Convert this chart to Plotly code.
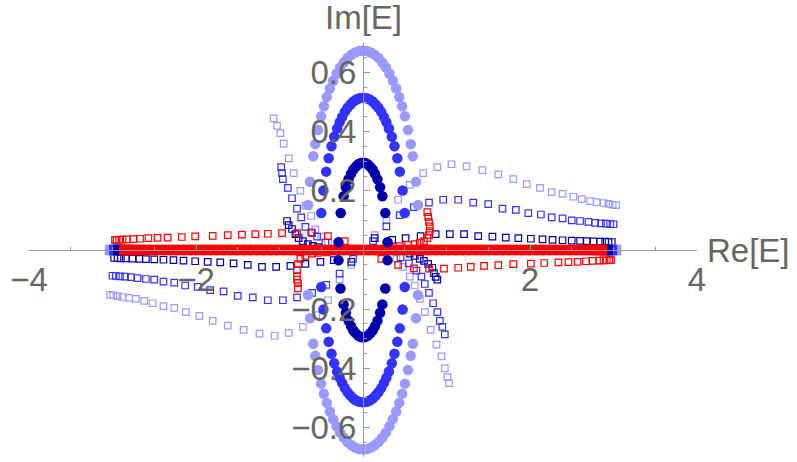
import plotly.graph_objects as go

# ---------------- colours ----------------
LIGHT = "#9999ff"
MEDIUM = "#3333ff"
NAVY = "#0000aa"
RED = "#ff0000"
TEXT = "#666666"
AXIS = "#999999"

# ---------------- filled-circle spectra ----------------
navy_dot_x = [0.294, 0.267, 0.232, 0.205, 0.173, 0.143, 0.115, 0.086, 0.056, 0.026, 0.0,
              -0.026, -0.056, -0.086, -0.115, -0.143, -0.173, -0.205, -0.232, -0.267, -0.294,
              -0.293, -0.270, -0.232, -0.205, -0.173, -0.143, -0.115, -0.086, -0.056, -0.026, 0.0,
              0.026, 0.056, 0.086, 0.115, 0.143, 0.173, 0.205, 0.232, 0.267, 0.293]
navy_dot_y = [0.026, 0.125, 0.182, 0.212, 0.239, 0.258, 0.272, 0.282, 0.290, 0.294, 0.295,
              0.294, 0.290, 0.282, 0.272, 0.258, 0.239, 0.212, 0.182, 0.125, 0.026,
              -0.035, -0.130, -0.184, -0.212, -0.239, -0.258, -0.272, -0.282, -0.290, -0.294, -0.295,
              -0.294, -0.290, -0.282, -0.272, -0.258, -0.239, -0.212, -0.184, -0.130, -0.035]

medium_dot_x = [0.500, 0.474, 0.441, 0.411, 0.377, 0.345, 0.310, 0.280, 0.250, 0.218, 0.185,
                0.151, 0.116, 0.081, 0.045, 0.0, -0.045, -0.081, -0.116, -0.151, -0.185, -0.218,
                -0.250, -0.280, -0.310, -0.345, -0.377, -0.411, -0.441, -0.474, -0.500,
                -0.500, -0.474, -0.441, -0.411, -0.377, -0.345, -0.310, -0.280, -0.250, -0.218,
                -0.185, -0.151, -0.116, -0.081, -0.045, 0.0, 0.045, 0.081, 0.116, 0.151, 0.185,
                0.218, 0.250, 0.280, 0.310, 0.345, 0.377, 0.411, 0.441, 0.474, 0.500]
medium_dot_y = [0.125, 0.201, 0.265, 0.310, 0.351, 0.383, 0.411, 0.432, 0.450, 0.467, 0.481,
                0.492, 0.502, 0.509, 0.513, 0.515, 0.513, 0.509, 0.502, 0.492, 0.481, 0.467,
                0.450, 0.432, 0.411, 0.383, 0.351, 0.310, 0.265, 0.201, 0.125,
                -0.125, -0.201, -0.265, -0.310, -0.351, -0.383, -0.411, -0.432, -0.450, -0.467,
                -0.481, -0.492, -0.502, -0.509, -0.513, -0.515, -0.513, -0.509, -0.502, -0.492, -0.481,
                -0.467, -0.450, -0.432, -0.411, -0.383, -0.351, -0.310, -0.265, -0.201, -0.125]

light_dot_x = [0.658, 0.634, 0.596, 0.572, 0.539, 0.502, 0.469, 0.434, 0.397, 0.358, 0.317,
               0.275, 0.231, 0.186, 0.140, 0.094, 0.047, 0.0, -0.047, -0.094, -0.140, -0.186,
               -0.231, -0.275, -0.317, -0.358, -0.397, -0.434, -0.469, -0.502, -0.539, -0.572,
               -0.596, -0.634, -0.658,
               -0.658, -0.634, -0.596, -0.572, -0.539, -0.502, -0.469, -0.434, -0.397, -0.358,
               -0.317, -0.275, -0.231, -0.186, -0.140, -0.094, -0.047, 0.0, 0.047, 0.094, 0.140,
               0.186, 0.231, 0.275, 0.317, 0.358, 0.397, 0.434, 0.469, 0.502, 0.539, 0.572,
               0.596, 0.634, 0.658]
light_dot_y = [0.152, 0.231, 0.317, 0.358, 0.406, 0.452, 0.486, 0.517, 0.546, 0.572, 0.596,
               0.617, 0.634, 0.649, 0.660, 0.668, 0.673, 0.675, 0.673, 0.668, 0.660, 0.649,
               0.634, 0.617, 0.596, 0.572, 0.546, 0.517, 0.486, 0.452, 0.406, 0.358,
               0.317, 0.231, 0.152,
               -0.152, -0.231, -0.317, -0.358, -0.406, -0.452, -0.486, -0.517, -0.546, -0.572,
               -0.596, -0.617, -0.634, -0.649, -0.660, -0.668, -0.673, -0.675, -0.673, -0.668, -0.660,
               -0.649, -0.634, -0.617, -0.596, -0.572, -0.546, -0.517, -0.486, -0.452, -0.406, -0.358,
               -0.317, -0.231, -0.152]

# ---------------- open-square spectra ----------------
# light blue branches
light_sq_ur_x = [0.14, 0.28, 0.42, 0.56, 0.72, 0.89, 1.06, 1.24, 1.43, 1.62, 1.80, 1.96, 2.12,
                 2.26, 2.39, 2.52, 2.62, 2.72, 2.80, 2.88, 2.94, 2.99, 3.03]
light_sq_ur_y = [0.05, 0.10, 0.17, 0.22, 0.26, 0.28, 0.29, 0.283, 0.27, 0.256, 0.24, 0.223, 0.21,
                 0.196, 0.19, 0.18, 0.172, 0.165, 0.162, 0.159, 0.156, 0.153, 0.152]
light_sq_ll_x = [-0.14, -0.28, -0.42, -0.56, -0.72, -0.89, -1.06, -1.24, -1.43, -1.62, -1.80, -1.96,
                 -2.12, -2.26, -2.39, -2.52, -2.62, -2.72, -2.80, -2.88, -2.94, -2.99, -3.03]
light_sq_ll_y = [-0.05, -0.10, -0.17, -0.22, -0.26, -0.28, -0.29, -0.283, -0.27, -0.256, -0.24,
                 -0.223, -0.21, -0.196, -0.19, -0.18, -0.172, -0.165, -0.162, -0.159, -0.156,
                 -0.153, -0.152]
light_sq_lr_x = [0.40, 0.48, 0.56, 0.62, 0.68, 0.74, 0.81, 0.88, 0.94, 0.98, 1.01, 1.03]
light_sq_lr_y = [-0.03, -0.057, -0.09, -0.12, -0.165, -0.21, -0.27, -0.32, -0.36, -0.40, -0.43, -0.45]
light_sq_ul_x = [-0.42, -0.50, -0.57, -0.62, -0.69, -0.75, -0.83, -0.89, -0.95, -0.99, -1.03, -1.07]
light_sq_ul_y = [0.025, 0.045, 0.07, 0.115, 0.15, 0.20, 0.26, 0.31, 0.36, 0.395, 0.42, 0.445]

# medium blue branches
medium_sq_ur_x = [0.12, 0.28, 0.44, 0.61, 0.79, 0.96, 1.14, 1.32, 1.50, 1.67, 1.83, 1.98, 2.13,
                  2.26, 2.39, 2.50, 2.60, 2.70, 2.78, 2.85, 2.91, 2.96, 3.00]
medium_sq_ur_y = [0.03, 0.08, 0.118, 0.145, 0.16, 0.17, 0.17, 0.16, 0.155, 0.14, 0.136, 0.125,
                  0.12, 0.11, 0.107, 0.10, 0.098, 0.095, 0.092, 0.09, 0.089, 0.088, 0.087]
medium_sq_ll_x = [-0.12, -0.28, -0.44, -0.61, -0.79, -0.96, -1.14, -1.32, -1.50, -1.67, -1.83,
                  -1.98, -2.13, -2.26, -2.39, -2.50, -2.60, -2.70, -2.78, -2.85, -2.91, -2.96, -3.00]
medium_sq_ll_y = [-0.03, -0.08, -0.118, -0.145, -0.16, -0.17, -0.17, -0.16, -0.155, -0.14, -0.136,
                  -0.125, -0.12, -0.11, -0.107, -0.10, -0.098, -0.095, -0.092, -0.09, -0.089,
                  -0.088, -0.087]
medium_sq_lr_x = [0.45, 0.55, 0.64, 0.70, 0.74, 0.79, 0.84, 0.89, 0.92, 0.95, 0.98]
medium_sq_lr_y = [-0.025, -0.045, -0.07, -0.09, -0.115, -0.145, -0.18, -0.21, -0.24, -0.26, -0.285]
medium_sq_ul_x = [-0.45, -0.55, -0.62, -0.69, -0.74, -0.79, -0.85, -0.90, -0.96, -0.97, -0.98]
medium_sq_ul_y = [0.025, 0.045, 0.06, 0.078, 0.11, 0.14, 0.175, 0.21, 0.24, 0.26, 0.28]

# navy branches
navy_sq_ur_x = [0.14, 0.35, 0.51, 0.69, 0.87, 1.04, 1.21, 1.38, 1.55, 1.71, 1.86, 2.01, 2.15,
                2.27, 2.39, 2.50, 2.60, 2.68, 2.76, 2.84, 2.90, 2.94, 2.98]
navy_sq_ur_y = [0.04, 0.034, 0.04, 0.047, 0.054, 0.054, 0.054, 0.047, 0.045, 0.042, 0.04, 0.038,
                0.036, 0.034, 0.033, 0.032, 0.031, 0.030, 0.029, 0.028, 0.028, 0.027, 0.027]
navy_sq_ll_x = [-0.14, -0.35, -0.51, -0.69, -0.87, -1.04, -1.21, -1.38, -1.55, -1.71, -1.86, -2.01,
                -2.15, -2.27, -2.39, -2.50, -2.60, -2.68, -2.76, -2.84, -2.90, -2.94, -2.98]
navy_sq_ll_y = [-0.04, -0.034, -0.04, -0.047, -0.054, -0.057, -0.057, -0.05, -0.045, -0.042, -0.04,
                -0.038, -0.036, -0.034, -0.033, -0.032, -0.031, -0.030, -0.029, -0.028, -0.028,
                -0.027, -0.027]
navy_sq_ul_x = [-0.54, -0.60, -0.66, -0.72, -0.77, -0.81, -0.85, -0.89, -0.91]
navy_sq_ul_y = [0.01, 0.014, 0.02, 0.03, 0.04, 0.054, 0.071, 0.084, 0.098]
navy_sq_lr_x = [0.56, 0.62, 0.68, 0.73, 0.78, 0.83, 0.85, 0.87, 0.89]
navy_sq_lr_y = [-0.012, -0.02, -0.03, -0.037, -0.047, -0.06, -0.078, -0.091, -0.10]

# red branches
red_sq_ul_x = [-2.97, -2.95, -2.92, -2.88, -2.83, -2.75, -2.67, -2.57, -2.46, -2.34, -2.17, -2.01,
               -1.80, -1.62, -1.45, -1.29, -1.14, -0.97, -0.79, -0.61, -0.42, -0.22]
red_sq_ul_y = [0.034, 0.034, 0.035, 0.035, 0.036, 0.037, 0.038, 0.04, 0.041, 0.042, 0.044, 0.046,
               0.048, 0.05, 0.052, 0.054, 0.055, 0.057, 0.057, 0.057, 0.047, 0.03]
red_sq_lr_x = [0.22, 0.42, 0.61, 0.79, 0.97, 1.14, 1.29, 1.45, 1.62, 1.80, 2.01, 2.17, 2.34, 2.46,
               2.57, 2.67, 2.75, 2.83, 2.88, 2.92, 2.95, 2.97]
red_sq_lr_y = [-0.03, -0.05, -0.062, -0.063, -0.063, -0.06, -0.057, -0.054, -0.051, -0.048, -0.046,
               -0.044, -0.042, -0.041, -0.04, -0.038, -0.037, -0.036, -0.035, -0.035, -0.034, -0.034]
red_sq_ur_x = [0.32, 0.44, 0.54, 0.62, 0.68, 0.73, 0.77, 0.79, 0.80, 0.80, 0.79, 0.78, 0.77]
red_sq_ur_y = [0.01, 0.013, 0.017, 0.02, 0.024, 0.03, 0.04, 0.05, 0.064, 0.08, 0.095, 0.112, 0.128]
red_sq_ll_x = [-0.32, -0.44, -0.54, -0.61, -0.69, -0.75, -0.78, -0.79, -0.79, -0.79, -0.78, -0.78]
red_sq_ll_y = [-0.005, -0.008, -0.01, -0.012, -0.02, -0.03, -0.048, -0.068, -0.088, -0.10, -0.112,
               -0.13]

# eigenvalues packed on the real axis
red_axis_x = [-2.86, -2.84, -2.81, -2.77, -2.72, -2.66, -2.59, -2.51, -2.43, -2.35, -2.27, -2.19,
              -2.11, -2.03, -1.95, -1.87, -1.79, -1.71, -1.63, -1.55, -1.47, -1.39, -1.31, -1.23,
              -1.15, -1.07, -0.99, -0.91, -0.83, -0.75, -0.67, -0.59, -0.51, -0.43, -0.35, -0.27,
              -0.19, -0.11, -0.04, 0.04, 0.11, 0.19, 0.27, 0.35, 0.43, 0.51, 0.59, 0.67, 0.75, 0.83,
              0.91, 0.99, 1.07, 1.15, 1.23, 1.31, 1.39, 1.47, 1.55, 1.63, 1.71, 1.79, 1.87, 1.95,
              2.03, 2.11, 2.19, 2.27, 2.35, 2.43, 2.51, 2.59, 2.66, 2.72, 2.77, 2.81, 2.84, 2.86]
navy_axis_x = [-2.93, -2.91, -2.89, 2.89, 2.91, 2.93]
medium_axis_x = [-2.98, -2.96, 2.96, 2.98]
light_axis_x = [-3.03, -3.01, 3.01, 3.03]

# ---------------- axes ----------------
x_range = [-4, 4]
y_range = [-0.7, 0.7]
x_ticks = [-4, -2, 2, 4]
x_labels = ["\u22124", "\u22122", "2", "4"]
y_ticks = [-0.6, -0.4, -0.2, 0.2, 0.4, 0.6]
y_labels = ["\u22120.6", "\u22120.4", "\u22120.2", "0.2", "0.4", "0.6"]

fig = go.Figure()


def squares(x, y, color, size=6.5):
    fig.add_trace(go.Scatter(
        x=x, y=y, mode="markers", hoverinfo="skip",
        marker=dict(symbol="square-open", size=size, color=color,
                    line=dict(width=1.2, color=color)),
    ))


def axis_band(x, color):
    fig.add_trace(go.Scatter(
        x=x, y=[0.0] * len(x), mode="markers", hoverinfo="skip",
        marker=dict(symbol="square", size=10.5, color=color, line=dict(width=0)),
    ))


def dots(x, y, color):
    fig.add_trace(go.Scatter(
        x=x, y=y, mode="markers", hoverinfo="skip",
        marker=dict(symbol="circle", size=10.5, color=color, line=dict(width=0)),
    ))


# light blue squares
squares(light_sq_ur_x, light_sq_ur_y, LIGHT)
squares(light_sq_ll_x, light_sq_ll_y, LIGHT)
squares(light_sq_lr_x, light_sq_lr_y, LIGHT)
squares(light_sq_ul_x, light_sq_ul_y, LIGHT)
# medium blue squares
squares(medium_sq_ur_x, medium_sq_ur_y, MEDIUM)
squares(medium_sq_ll_x, medium_sq_ll_y, MEDIUM)
squares(medium_sq_lr_x, medium_sq_lr_y, MEDIUM)
squares(medium_sq_ul_x, medium_sq_ul_y, MEDIUM)
# navy squares
squares(navy_sq_ur_x, navy_sq_ur_y, NAVY)
squares(navy_sq_ll_x, navy_sq_ll_y, NAVY)
squares(navy_sq_ul_x, navy_sq_ul_y, NAVY)
squares(navy_sq_lr_x, navy_sq_lr_y, NAVY)

# real-axis clusters
axis_band(light_axis_x, LIGHT)
axis_band(medium_axis_x, MEDIUM)
axis_band(navy_axis_x, NAVY)
axis_band(red_axis_x, RED)

# red squares
squares(red_sq_ul_x, red_sq_ul_y, RED)
squares(red_sq_lr_x, red_sq_lr_y, RED)
squares(red_sq_ur_x, red_sq_ur_y, RED)
squares(red_sq_ll_x, red_sq_ll_y, RED)

# filled circles
dots(light_dot_x, light_dot_y, LIGHT)
dots(medium_dot_x, medium_dot_y, MEDIUM)
dots(navy_dot_x, navy_dot_y, NAVY)

label_font = dict(family="Liberation Sans, Arial, sans-serif", size=33, color=TEXT)

fig.update_layout(
    width=797, height=462,
    margin=dict(l=29, r=100, t=43, b=5),
    paper_bgcolor="white", plot_bgcolor="white",
    showlegend=False,
    font=label_font,
    xaxis=dict(
        range=x_range, anchor="free", position=0.5,
        showline=True, linecolor=AXIS, linewidth=1,
        showgrid=False, zeroline=False,
        tickmode="array", tickvals=x_ticks, ticktext=x_labels,
        ticks="inside", ticklen=6, tickcolor=AXIS, tickwidth=1,
        tickfont=label_font,
        minor=dict(tickmode="linear", tick0=0, dtick=0.5, ticks="inside",
                   ticklen=3, tickcolor=AXIS, showgrid=False),
        layer="above traces",
    ),
    yaxis=dict(
        range=y_range, anchor="free", position=0.5,
        showline=True, linecolor=AXIS, linewidth=1,
        showgrid=False, zeroline=False,
        tickmode="array", tickvals=y_ticks, ticktext=y_labels,
        ticks="inside", ticklen=6, tickcolor=AXIS, tickwidth=1,
        tickfont=label_font,
        minor=dict(tickmode="linear", tick0=0, dtick=0.05, ticks="inside",
                   ticklen=3, tickcolor=AXIS, showgrid=False),
        layer="above traces",
    ),
    annotations=[
        dict(text="Im[E]", x=0, xref="x", y=1, yref="paper", xanchor="center",
             yanchor="bottom", showarrow=False, font=label_font, yshift=5),
        dict(text="Re[E]", x=4, xref="x", y=0, yref="y", xanchor="left",
             yanchor="middle", showarrow=False, font=label_font, xshift=8),
    ],
)

fig.write_html("out.html")
